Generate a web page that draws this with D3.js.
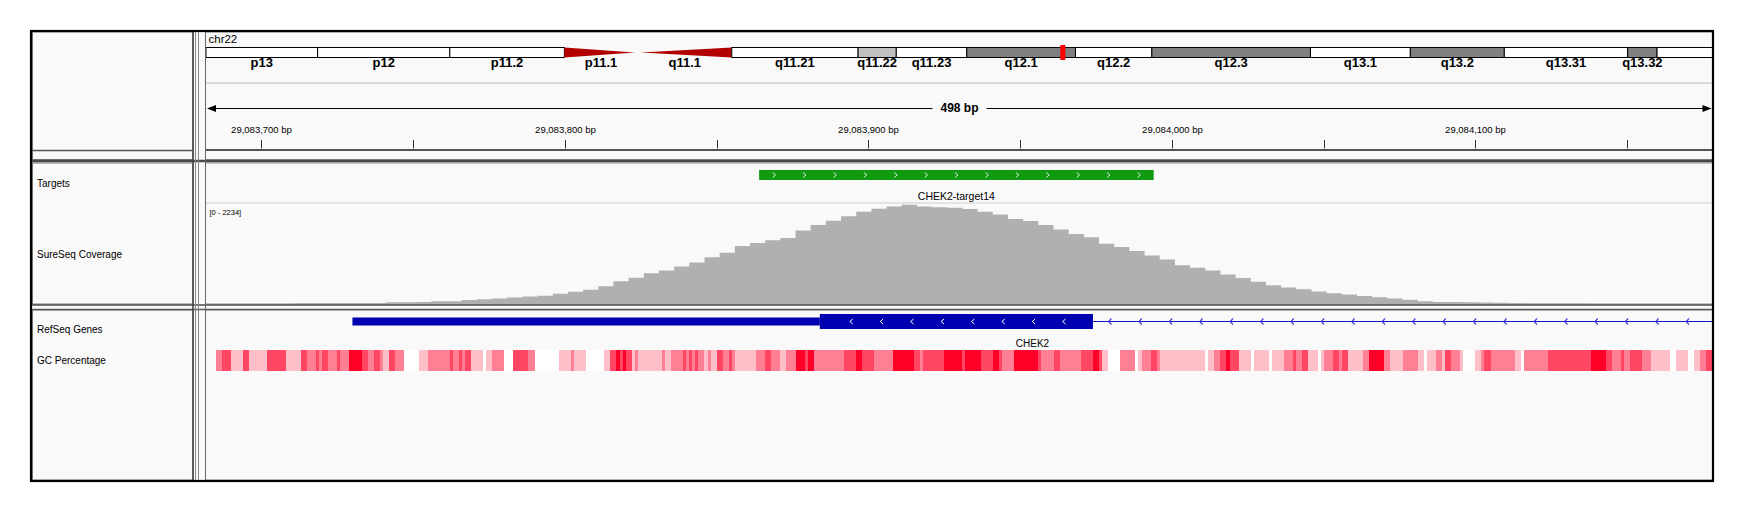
<!DOCTYPE html>
<html><head><meta charset="utf-8">
<script src="https://cdn.jsdelivr.net/npm/d3@7"></script>
<style>
body{margin:0;background:#fff}
svg{display:block}
text{font-family:"Liberation Sans",Arial,sans-serif;fill:#000}
</style>
</head><body>
<svg id="c" width="1751" height="511"></svg>
<script>
// ---------------- data ----------------
const chromName = "chr22";
const chromLength = 51304566;
const bandNames  = ["p13","p12","p11.2","p11.1","q11.1","q11.21","q11.22","q11.23","q12.1","q12.2","q12.3","q13.1","q13.2","q13.31","q13.32","q13.33"];
const bandStarts = [0,3800000,8300000,12200000,14700000,17900000,22200000,23500000,25900000,29600000,32200000,37600000,41000000,44200000,48400000,49400000];
const bandStains = ["gvar","stalk","gvar","acen","acen","gneg","gpos25","gneg","gpos50","gneg","gpos50","gneg","gpos50","gneg","gpos50","gneg"];
const bandLabelled = [1,1,1,1,1,1,1,1,1,1,1,1,1,1,1,0];

const viewStart = 29083681.75;
const viewEnd   = 29084178.3;
const viewWidthLabel = "498 bp";
const tickPositions = [29083700,29083750,29083800,29083850,29083900,29083950,29084000,29084050,29084100,29084150];
const tickLabels    = ["29,083,700 bp","","29,083,800 bp","","29,083,900 bp","","29,084,000 bp","","29,084,100 bp",""];

const trackNames = ["Targets","SureSeq Coverage","RefSeq Genes","GC Percentage"];

const targetName  = "CHEK2-target14";
const targetStart = 29083864;
const targetEnd   = 29083994;

const coverageRangeLabel = "[0 - 2234]";
const coverageMax   = 2234;
const coverageStart = 29083711;
const coverageBin   = 5;
const coverageValues = [10,10,12,12,14,14,28,30,32,48,
  50,78,95,115,135,155,175,220,265,310,
  390,500,580,680,740,830,920,1040,1140,1290,
  1360,1420,1470,1640,1760,1860,1960,2060,2130,2180,
  2215,2180,2160,2150,2120,2060,2000,1900,1850,1760,
  1660,1560,1490,1340,1270,1180,1080,990,860,800,
  740,650,570,490,410,360,320,270,230,200,
  170,140,110,85,50,35,32,30,25,15,
  10,8,8,8,8];

const geneName  = "CHEK2";
const geneStart = 29083730;
const cdsStart  = 29083884;
const exonEnd   = 29083974;
const geneEnd   = 29085500;

const gcBase = 29083680;
const gcEndOffset = 499;
const gcSegments = [[5,50],[7,59],[10,40],[14,59],[16,40],[22,59],[28,40],[33,59],[35,50],[38,59],[39,50],[40,59],[42,50],[45,59],[46,50],[49,70],[53,59],[55,50],[57,59],[59,50],[60,40],[62,59],[64,50],[67,28],[72,40],[75,50],[82,59],[83,50],[85,59],[86,50],[87,59],[89,40],[93,28],[94,40],[96,50],[100,28],[103,59],[108,50],[110,28],[118,40],[122,50],[123,40],[127,28],[133,40],[135,59],[137,70],[138,59],[139,70],[140,59],[142,40],[143,50],[144,40],[152,50],[153,40],[155,50],[159,59],[160,50],[161,59],[162,50],[163,59],[164,50],[166,40],[167,50],[168,40],[170,59],[172,50],[174,59],[175,50],[176,40],[183,50],[186,59],[188,50],[191,40],[193,50],[196,70],[199,59],[200,70],[202,50],[212,59],[216,70],[218,59],[222,50],[228,70],[235,59],[237,50],[238,59],[245,70],[251,59],[252,70],[257,59],[261,70],[263,59],[264,50],[268,70],[276,59],[277,50],[281,59],[283,50],[290,59],[294,70],[296,59],[297,40],[299,28],[303,50],[308,28],[309,40],[310,50],[313,59],[315,50],[316,40],[331,28],[332,40],[334,50],[336,59],[338,70],[339,59],[342,40],[346,28],[347,40],[352,28],[353,40],[357,50],[360,59],[361,50],[363,59],[365,40],[368,28],[369,40],[370,50],[373,59],[375,50],[376,59],[378,40],[383,50],[385,70],[390,50],[392,40],[396,50],[401,40],[403,28],[404,40],[407,50],[409,40],[410,59],[412,50],[415,40],[416,28],[420,40],[422,50],[423,59],[425,50],[433,40],[435,28],[436,50],[444,59],[458,70],[463,59],[465,50],[468,59],[469,50],[471,59],[475,50],[478,40],[484,28],[486,40],[490,28],[492,40],[494,50],[496,59]];

// ---------------- layout ----------------
const W = 1751, H = 511;
const frame = {x0:31, y0:31, x1:1713, y1:481};
const dataX0 = 206, dataX1 = 1712.5;
const nameX1 = 193;
const bg = "#f9f9f9";

const svg = d3.select("#c");
const x = d3.scaleLinear().domain([viewStart, viewEnd]).range([206, 1713]);
const ideo = d3.scaleLinear().domain([0, chromLength]).range([206, 1713]);

svg.append("rect").attr("width",W).attr("height",H).attr("fill","#fff");
svg.append("rect").attr("x",frame.x0).attr("y",frame.y0).attr("width",frame.x1-frame.x0).attr("height",frame.y1-frame.y0).attr("fill",bg);

const clip = svg.append("defs").append("clipPath").attr("id","dc");
clip.append("rect").attr("x",dataX0).attr("y",32).attr("width",dataX1-dataX0).attr("height",448);
const data = svg.append("g").attr("clip-path","url(#dc)");

// ---------- header: ideogram ----------
data.append("text").attr("x",208.5).attr("y",43).attr("font-size","11.5px").text(chromName);

const bandEnds = bandStarts.slice(1).concat([chromLength]);
const stainFill = {gneg:"#fff", gvar:"#fff", stalk:"#fff", gpos25:"#c0c0c0", gpos50:"#808080", acen:"#b20000"};
const iy0 = 47.5, ih = 10;
bandNames.forEach((n,i)=>{
  const s = bandStains[i], a = ideo(bandStarts[i]), b = ideo(bandEnds[i]);
  if (s === "acen") {
    const mid = iy0 + ih/2;
    const pts = (n[0]==="p") ? [[a,iy0],[b-3,mid],[a,iy0+ih]] : [[b,iy0],[a+3,mid],[b,iy0+ih]];
    data.append("polygon").attr("points",pts.map(p=>p.join(",")).join(" ")).attr("fill",stainFill[s]);
  } else {
    data.append("rect").attr("x",a).attr("y",iy0).attr("width",b-a).attr("height",ih)
      .attr("fill",stainFill[s]).attr("stroke","#000").attr("stroke-width",1);
  }
  if (bandLabelled[i]) {
    data.append("text").attr("x",(a+b)/2).attr("y",67).attr("text-anchor","middle")
      .attr("font-family","'Liberation Serif','Times New Roman',serif").attr("font-weight","bold")
      .attr("font-size","13px").text(n);
  }
});
data.append("rect").attr("x",ideo(viewStart)).attr("y",45).attr("width",Math.max(5, ideo(viewEnd)-ideo(viewStart))).attr("height",15).attr("fill","#ff0000");

data.append("line").attr("x1",dataX0).attr("x2",dataX1).attr("y1",83).attr("y2",83).attr("stroke","#cfcfcf").attr("stroke-width",1.5);

// ---------- ruler ----------
const ay = 108.5;
const lbl = data.append("text").attr("x",(x(viewStart)+x(viewEnd))/2).attr("y",112).attr("text-anchor","middle")
  .attr("font-weight","bold").attr("font-size","12px").text(viewWidthLabel);
const bb = lbl.node().getBBox();
data.append("line").attr("x1",x(viewStart)+2).attr("x2",bb.x-8).attr("y1",ay).attr("y2",ay).attr("stroke","#000");
data.append("line").attr("x1",bb.x+bb.width+8).attr("x2",x(viewEnd)-2).attr("y1",ay).attr("y2",ay).attr("stroke","#000");
data.append("polygon").attr("points",`${x(viewStart)+1},${ay} ${x(viewStart)+10},${ay-3.5} ${x(viewStart)+10},${ay+3.5}`).attr("fill","#000");
data.append("polygon").attr("points",`${x(viewEnd)-1.5},${ay} ${x(viewEnd)-10.5},${ay-3.5} ${x(viewEnd)-10.5},${ay+3.5}`).attr("fill","#000");

tickPositions.forEach((t,i)=>{
  const tx = Math.round(x(t))+0.5;
  data.append("line").attr("x1",tx).attr("x2",tx).attr("y1",140).attr("y2",148.5).attr("stroke","#333").attr("stroke-width",1);
  if (tickLabels[i]) data.append("text").attr("x",tx).attr("y",132.5).attr("text-anchor","middle").attr("font-size","9.5px").attr("fill","#111").text(tickLabels[i]);
});
data.append("line").attr("x1",dataX0).attr("x2",dataX1).attr("y1",150).attr("y2",150).attr("stroke","#555").attr("stroke-width",2);

// ---------- targets ----------
const gy0 = 170, gh = 10;
data.append("rect").attr("x",x(targetStart)).attr("y",gy0).attr("width",x(targetEnd)-x(targetStart)).attr("height",gh).attr("fill","#109a10");
for (let cx = x(targetStart)+15; cx < x(targetEnd)-6; cx += 30.4) {
  data.append("path").attr("d",`M${cx-1.5},${gy0+2.5} L${cx+1.5},${gy0+5} L${cx-1.5},${gy0+7.5}`)
    .attr("fill","none").attr("stroke","#d8ecd8").attr("stroke-width",1);
}
data.append("text").attr("x",(x(targetStart)+x(targetEnd))/2).attr("y",200).attr("text-anchor","middle").attr("font-size","10.5px").attr("fill","#111").text(targetName);
data.append("line").attr("x1",dataX0).attr("x2",dataX1).attr("y1",203).attr("y2",203).attr("stroke","#cfcfd8").attr("stroke-width",1.2);

// ---------- coverage ----------
const y = d3.scaleLinear().domain([0, coverageMax]).range([303.5, 204]);
const covPts = coverageValues.map((v,i)=>[coverageStart+i*coverageBin, v]);
covPts.push([coverageStart+coverageValues.length*coverageBin, coverageValues[coverageValues.length-1]]);
const area = d3.area().curve(d3.curveStepAfter).x(d=>x(d[0])).y0(y(0)).y1(d=>y(d[1]));
data.append("path").datum(covPts).attr("d",area).attr("fill","#b0b0b0");
data.append("text").attr("x",209.5).attr("y",215).attr("font-size","7.5px").text(coverageRangeLabel);

// ---------- gene ----------
const geneY = 321.5;
const geneBlue = "#0000b2";
data.append("line").attr("x1",x(exonEnd)).attr("x2",x(geneEnd)).attr("y1",geneY).attr("y2",geneY).attr("stroke","#1414c0").attr("stroke-width",1);
data.append("rect").attr("x",x(geneStart)).attr("y",geneY-4).attr("width",x(cdsStart)-x(geneStart)).attr("height",8).attr("fill",geneBlue);
data.append("rect").attr("x",x(cdsStart)).attr("y",geneY-7.5).attr("width",x(exonEnd)-x(cdsStart)).attr("height",15).attr("fill",geneBlue);
for (let cx = x(cdsStart)+31.5; cx < x(exonEnd)-15; cx += 30.4) {
  data.append("path").attr("d",`M${cx+1.5},${geneY-2.5} L${cx-1.5},${geneY} L${cx+1.5},${geneY+2.5}`)
    .attr("fill","none").attr("stroke","#fff").attr("stroke-width",1);
}
for (let cx = x(exonEnd)+17; cx < dataX1; cx += 30.4) {
  data.append("path").attr("d",`M${cx+1.5},${geneY-3} L${cx-1.5},${geneY} L${cx+1.5},${geneY+3}`)
    .attr("fill","none").attr("stroke","#3c3ce0").attr("stroke-width",1.1);
}
data.append("text").attr("x",(Math.max(x(geneStart),dataX0)+Math.min(x(geneEnd),dataX1))/2).attr("y",347).attr("text-anchor","middle").attr("font-size","10px").attr("fill","#111").text(geneName);

// ---------- GC ----------
const gcColor = d3.scaleLinear().domain([30,70]).range(["#ffffff","rgb(255,0,40)"]).clamp(true);
data.append("g").attr("shape-rendering","crispEdges").selectAll("rect").data(gcSegments).join("rect")
  .attr("x",d=>x(gcBase+d[0]))
  .attr("width",(d,i)=>{const e = i<gcSegments.length-1 ? gcSegments[i+1][0] : gcEndOffset; return x(gcBase+e)-x(gcBase+d[0])+0.5;})
  .attr("y",350).attr("height",20.5).attr("fill",d=>gcColor(d[1]));

// ---------- name panel labels ----------
const labelY = [187,258,333,364];
trackNames.forEach((n,i)=>svg.append("text").attr("x",37).attr("y",labelY[i]).attr("font-size","10px").text(n));

// ---------- panel borders / separators ----------
const g = svg.append("g").attr("fill","none");
[[32,159.5],[163,304],[310,480]].forEach(([a,b])=>{
  g.append("rect").attr("x",32.5).attr("y",a).attr("width",nameX1-32.5).attr("height",b-a).attr("stroke","#7a7a7a");
  g.append("rect").attr("x",dataX0-0.5).attr("y",a).attr("width",dataX1-dataX0+0.5).attr("height",b-a).attr("stroke","#8a8a8a");
});
g.append("line").attr("x1",32).attr("x2",1712).attr("y1",161).attr("y2",161).attr("stroke","#4a4a4a").attr("stroke-width",2.5);
g.append("line").attr("x1",32).attr("x2",1712).attr("y1",305).attr("y2",305).attr("stroke","#4a4a4a").attr("stroke-width",1.6);
g.append("line").attr("x1",32).attr("x2",1712).attr("y1",309.5).attr("y2",309.5).attr("stroke","#5a5a5a").attr("stroke-width",1.4);
g.append("line").attr("x1",32).attr("x2",nameX1).attr("y1",150.5).attr("y2",150.5).attr("stroke","#555").attr("stroke-width",1.5);
g.append("line").attr("x1",193).attr("x2",193).attr("y1",32).attr("y2",480).attr("stroke","#444").attr("stroke-width",1.6);
g.append("line").attr("x1",195.5).attr("x2",195.5).attr("y1",32).attr("y2",480).attr("stroke","#888");
g.append("line").attr("x1",198.5).attr("x2",198.5).attr("y1",32).attr("y2",480).attr("stroke","#888");
g.append("line").attr("x1",205.5).attr("x2",205.5).attr("y1",32).attr("y2",480).attr("stroke","#666");

svg.append("rect").attr("x",frame.x0).attr("y",frame.y0).attr("width",frame.x1-frame.x0).attr("height",frame.y1-frame.y0)
  .attr("fill","none").attr("stroke","#000").attr("stroke-width",2.2);
</script>
</body></html>
